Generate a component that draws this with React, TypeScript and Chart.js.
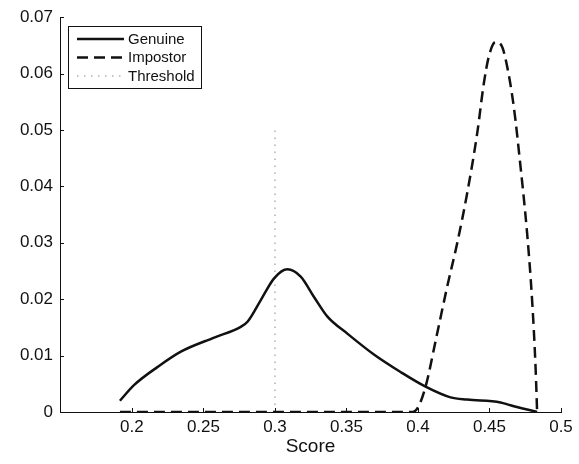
import React, { useEffect, useRef } from 'react';
import { Chart, registerables } from 'chart.js';

Chart.register(...registerables);

// ---- Data ----
const seriesLabels = ['Genuine', 'Impostor', 'Threshold'];

const genuineX = [0.1916, 0.2016, 0.218, 0.2342, 0.2575, 0.2761, 0.2808, 0.29, 0.2994, 0.3087, 0.318, 0.3273, 0.3367, 0.3506, 0.3692, 0.3878, 0.4053, 0.4228, 0.4344, 0.4577, 0.4647, 0.4833];
const genuineY = [0.002, 0.0048, 0.008, 0.0107, 0.0132, 0.0151, 0.016, 0.0198, 0.0237, 0.0253, 0.024, 0.0204, 0.0169, 0.0139, 0.0102, 0.0071, 0.0045, 0.0026, 0.0022, 0.0017, 0.0012, 0.0];

const impostorX = [0.1916, 0.25, 0.3, 0.35, 0.396, 0.4, 0.4053, 0.4134, 0.4204, 0.4274, 0.4344, 0.4414, 0.446, 0.4495, 0.4542, 0.4589, 0.4624, 0.467, 0.4717, 0.4763, 0.4798, 0.4822, 0.4833];
const impostorY = [0, 0, 0, 0, 0, 0.0008, 0.0045, 0.0139, 0.0222, 0.0299, 0.0388, 0.0494, 0.0582, 0.063, 0.0656, 0.0647, 0.0612, 0.0541, 0.0435, 0.0317, 0.0198, 0.008, 0];

const thresholdX = [0.3, 0.3];
const thresholdY = [0, 0.05];

const xTicks = [0.2, 0.25, 0.3, 0.35, 0.4, 0.45, 0.5];
const xTickLabels = ['0.2', '0.25', '0.3', '0.35', '0.4', '0.45', '0.5'];
const yTicks = [0, 0.01, 0.02, 0.03, 0.04, 0.05, 0.06, 0.07];
const yTickLabels = ['0', '0.01', '0.02', '0.03', '0.04', '0.05', '0.06', '0.07'];
const xTitle = 'Score';
const xMin = 0.1497;
const xMax = 0.5;
const yMin = 0;
const yMax = 0.07;

const FONT = '"Liberation Sans", Arial, Helvetica, sans-serif';
const INK = '#111';

const toPoints = (xs: number[], ys: number[]) => xs.map((x, i) => ({ x, y: ys[i] }));

const overlayPlugin = {
  id: 'matlabOverlay',
  afterDraw(chart: any) {
    const { ctx, chartArea, scales } = chart;
    const xs = scales.x;
    const ys = scales.y;
    ctx.save();
    // inward ticks
    ctx.strokeStyle = INK;
    ctx.lineWidth = 1;
    ctx.setLineDash([]);
    const tl = 4;
    ctx.beginPath();
    xTicks.forEach((v) => {
      const px = Math.round(xs.getPixelForValue(v)) + 0.5;
      ctx.moveTo(px, chartArea.bottom);
      ctx.lineTo(px, chartArea.bottom - tl);
    });
    yTicks.forEach((v) => {
      const py = Math.round(ys.getPixelForValue(v)) + 0.5;
      ctx.moveTo(chartArea.left, py);
      ctx.lineTo(chartArea.left + tl, py);
    });
    ctx.stroke();

    // legend box
    const bx = 68.5, by = 26.5, bw = 133, bh = 62;
    ctx.fillStyle = '#fff';
    ctx.fillRect(bx, by, bw, bh);
    ctx.strokeStyle = INK;
    ctx.lineWidth = 1;
    ctx.strokeRect(bx, by, bw, bh);
    const rows = [39, 57.5, 76];
    const ds = chart.data.datasets;
    rows.forEach((ry, i) => {
      const d = ds[i];
      ctx.beginPath();
      ctx.strokeStyle = d.borderColor;
      ctx.lineWidth = d.borderWidth;
      ctx.setLineDash(d.borderDash || []);
      ctx.moveTo(77, ry);
      ctx.lineTo(124, ry);
      ctx.stroke();
      ctx.setLineDash([]);
      ctx.fillStyle = INK;
      ctx.font = `15px ${FONT}`;
      ctx.textAlign = 'left';
      ctx.textBaseline = 'middle';
      ctx.fillText(d.label, 128, ry + 0.5);
    });
    ctx.restore();
  },
};

export default function App() {
  const canvasRef = useRef<HTMLCanvasElement | null>(null);

  useEffect(() => {
    if (!canvasRef.current) return;
    const chart = new Chart(canvasRef.current, {
      type: 'line',
      data: {
        datasets: [
          {
            label: seriesLabels[0],
            data: toPoints(genuineX, genuineY),
            borderColor: INK,
            borderWidth: 2.5,
            pointRadius: 0,
            fill: false,
            cubicInterpolationMode: 'monotone',
          },
          {
            label: seriesLabels[1],
            data: toPoints(impostorX, impostorY),
            borderColor: INK,
            borderWidth: 2.5,
            borderDash: [11, 6],
            pointRadius: 0,
            fill: false,
            cubicInterpolationMode: 'monotone',
          },
          {
            label: seriesLabels[2],
            data: toPoints(thresholdX, thresholdY),
            borderColor: '#8a8a8a',
            borderWidth: 1,
            borderDash: [1.5, 5.5],
            pointRadius: 0,
            fill: false,
            tension: 0,
          },
        ],
      } as any,
      options: {
        responsive: false,
        animation: false,
        layout: { padding: { top: 17, right: 18, left: 0, bottom: 0 } },
        plugins: {
          legend: { display: false },
          tooltip: { enabled: false },
        },
        scales: {
          x: {
            type: 'linear',
            min: xMin,
            max: xMax,
            afterBuildTicks: (s: any) => {
              s.ticks = xTicks.map((v) => ({ value: v }));
            },
            afterFit: (s: any) => {
              s.height = 52;
            },
            grid: { display: true, drawOnChartArea: false, drawTicks: false, color: INK },
            border: { display: true, color: INK, width: 1 },
            ticks: {
              autoSkip: false,
              maxRotation: 0,
              padding: 5,
              color: INK,
              font: { family: FONT, size: 17 },
              callback: (_v: any, i: number) => xTickLabels[i],
            },
            title: {
              display: true,
              text: xTitle,
              color: INK,
              font: { family: FONT, size: 19 },
              padding: { top: 0, bottom: 6 },
            },
          },
          y: {
            type: 'linear',
            min: yMin,
            max: yMax,
            afterBuildTicks: (s: any) => {
              s.ticks = yTicks.map((v) => ({ value: v }));
            },
            afterFit: (s: any) => {
              s.width = 60;
            },
            grid: { display: true, drawOnChartArea: false, drawTicks: false, color: INK },
            border: { display: true, color: INK, width: 1 },
            ticks: {
              autoSkip: false,
              padding: 7,
              color: INK,
              font: { family: FONT, size: 17 },
              callback: (_v: any, i: number) => yTickLabels[i],
            },
          },
        },
      } as any,
      plugins: [overlayPlugin],
    });
    return () => chart.destroy();
  }, []);

  return (
    <div style={{ position: 'fixed', left: 0, top: 0, width: 579, height: 464, background: '#fff' }}>
      <canvas ref={canvasRef} width={579} height={464} style={{ display: 'block' }} />
    </div>
  );
}
